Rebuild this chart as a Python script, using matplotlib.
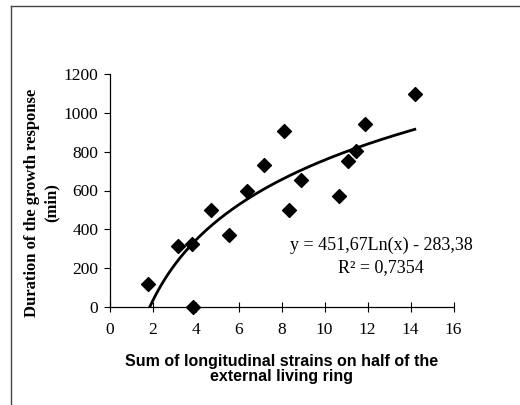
import numpy as np
import matplotlib
matplotlib.use("Agg")
import matplotlib.pyplot as plt

# Data
strain_sum = [1.78, 3.19, 3.82, 3.90, 4.72, 5.57, 6.40, 7.19, 8.10, 8.35,
              8.91, 10.66, 11.09, 11.47, 11.88, 14.20]
duration = [117, 314, 325, 0, 501, 369, 598, 730, 905, 501,
            653, 574, 754, 804, 945, 1099]

# Logarithmic trend line coefficients (from the chart's equation)
coef_a = 451.67
coef_b = -283.38
r_squared = 0.7354

x_ticks = [0, 2, 4, 6, 8, 10, 12, 14, 16]
y_ticks = [0, 200, 400, 600, 800, 1000, 1200]

fig = plt.figure(figsize=(5.2, 4.05), dpi=100)
ax = fig.add_axes([109.5 / 520, 1 - 307 / 405, 344 / 520, 233 / 405])

serif = "Liberation Serif"

ax.scatter(strain_sum, duration, marker="D", s=50, color="black", zorder=3,
           clip_on=False)

x_start = np.exp(-coef_b / coef_a)
xs = np.linspace(x_start, max(strain_sum), 200)
ax.plot(xs, coef_a * np.log(xs) + coef_b, color="black", lw=2.0, zorder=2)

ax.set_xlim(0, 16)
ax.set_ylim(0, 1200)
ax.set_xticks(x_ticks)
ax.set_yticks(y_ticks)
ax.spines["top"].set_visible(False)
ax.spines["right"].set_visible(False)
for s in ("left", "bottom"):
    ax.spines[s].set_linewidth(0.9)
ax.tick_params(axis="x", direction="inout", length=7, width=0.8, pad=7)
ax.tick_params(axis="y", direction="out", length=4, width=0.8, pad=4)
for lab in ax.get_xticklabels() + ax.get_yticklabels():
    lab.set_fontfamily(serif)
    lab.set_fontsize(12.5)

ax.set_ylabel("Duration of the growth response\n(min)", fontfamily=serif,
              fontweight="bold", fontsize=12, linespacing=1.35)
ax.yaxis.set_label_coords(-0.144, 0.4485)
ax.set_xlabel("Sum of longitudinal strains on half of the\nexternal living ring",
              fontfamily="Liberation Sans", fontweight="bold", fontsize=11.5,
              linespacing=0.95, labelpad=12)

fmt = lambda v: f"{v:.2f}".replace(".", ",")
eq_text = f"y = {fmt(coef_a)}Ln(x) - {fmt(-coef_b)}"
r2_text = "R² = " + f"{r_squared:.4f}".replace(".", ",")
ax.text(0.789, 0.266, eq_text, transform=ax.transAxes, ha="center",
        va="center", fontfamily=serif, fontsize=13)
ax.text(0.789, 0.167, r2_text, transform=ax.transAxes, ha="center",
        va="center", fontfamily=serif, fontsize=13)

# outer frame (left and top edges)
fig.add_artist(plt.Line2D([11 / 520, 11 / 520], [0, 1 - 6 / 405],
                          transform=fig.transFigure, color="#444444", lw=1.0))
fig.add_artist(plt.Line2D([11 / 520, 1], [1 - 6 / 405, 1 - 6 / 405],
                          transform=fig.transFigure, color="#444444", lw=1.0))

fig.savefig("out.png", dpi=100)
